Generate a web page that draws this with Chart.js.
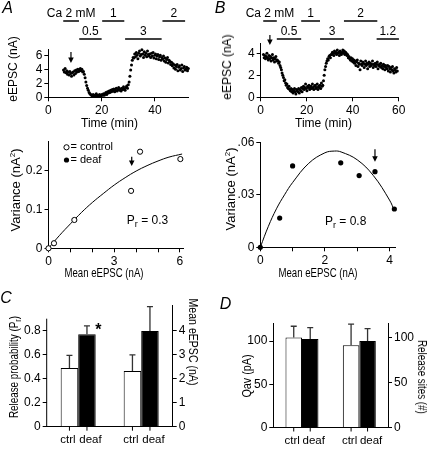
<!DOCTYPE html>
<html>
<head>
<meta charset="utf-8">
<script src="https://cdn.jsdelivr.net/npm/chart.js@4.4.1/dist/chart.umd.min.js"></script>
<style>
  html, body { margin: 0; padding: 0; background: #fff; }
  #fig { position: relative; width: 429px; height: 449px; overflow: hidden; font-family: "Liberation Sans", Arial, sans-serif; color: #000; }
  #fig canvas { position: absolute; }
  .lbl { position: absolute; transform: translate(-50%, -50%); white-space: nowrap; font-size: 12px; line-height: 1; }
  .up { transform: translate(-50%, -50%) rotate(-90deg); }
  .down { transform: translate(-50%, -50%) rotate(90deg); }
  .panel { font-size: 16px; font-style: italic; }
  .var { font-size: 13px; }
  sup { font-size: 8px; vertical-align: 5px; line-height: 0; }
  sub { font-size: 9px; vertical-align: -3px; line-height: 0; }
</style>
</head>
<body>
<div id="fig">
  <canvas id="timeA" width="214" height="130" style="left:0;top:0"></canvas>
  <canvas id="timeB" width="215" height="130" style="left:214px;top:0"></canvas>
  <canvas id="varA" width="214" height="155" style="left:0;top:130px"></canvas>
  <canvas id="varB" width="215" height="155" style="left:214px;top:130px"></canvas>
  <canvas id="barC" width="214" height="164" style="left:0;top:285px"></canvas>
  <canvas id="barD" width="215" height="164" style="left:214px;top:285px"></canvas>

  <div class="lbl panel" style="left:7.5px;top:7.5px">A</div>
  <div class="lbl panel" style="left:220px;top:7.5px">B</div>
  <div class="lbl panel" style="left:6px;top:297.5px">C</div>
  <div class="lbl panel" style="left:225.5px;top:304px">D</div>

  <div class="lbl up" style="left:13.3px;top:69px">eEPSC (nA)</div>
  <div class="lbl" style="left:109.5px;top:123px">Time (min)</div>
  <div class="lbl up" style="left:227px;top:67px">eEPSC (nA)</div>
  <div class="lbl" style="left:323.5px;top:123px">Time (min)</div>

  <div class="lbl up var" style="left:15px;top:190px">Variance (nA<sup>2</sup>)</div>
  <div class="lbl" style="left:104px;top:273px;transform:translate(-50%,-50%) scaleX(0.8)">Mean eEPSC (nA)</div>
  <div class="lbl" style="left:147.5px;top:220px">P<sub>r</sub> = 0.3</div>
  <div class="lbl up var" style="left:230px;top:189px">Variance (nA<sup>2</sup>)</div>
  <div class="lbl" style="left:318px;top:273px;transform:translate(-50%,-50%) scaleX(0.8)">Mean eEPSC (nA)</div>
  <div class="lbl" style="left:345.7px;top:221px">P<sub>r</sub> = 0.8</div>

  <div class="lbl" style="left:14px;top:366.7px;transform:translate(-50%,-50%) rotate(-90deg) scaleX(0.82)">Release probability (P<sub>r</sub>)</div>
  <div class="lbl" style="left:193px;top:341.5px;transform:translate(-50%,-50%) rotate(90deg) scaleX(0.88)">Mean eEPSC (nA)</div>
  <div class="lbl" style="left:246.5px;top:376px;transform:translate(-50%,-50%) rotate(-90deg) scaleX(0.9)">Qav (pA)</div>
  <div class="lbl" style="left:422px;top:376.5px;transform:translate(-50%,-50%) rotate(90deg) scaleX(0.82)">Release sites (#)</div>
</div>

<script>
// ---- panel A / B time courses (eEPSC in nA), one sweep every 0.3 min
var sweepStartA = 5.7, sweepStepA = 0.3;
var eepscA = [
  3.9, 3.6, 4.1, 3.5, 3.8, 3.3, 3.6, 3.2, 3.7, 3.4, 3.0, 3.5, 3.6, 3.2, 3.8, 3.4, 3.9, 3.6, 4.0, 3.7, 3.9, 4.1,
  3.8, 4.0, 3.6, 3.7,
  3.3, 2.8, 2.2, 1.7, 1.3, 1.0, 0.7, 0.5, 0.4, 0.3,
  0.2, 0.4, 0.1, 0.3, 0.2, 0.5, 0.2, 0.3, 0.1, 0.4, 0.3, 0.2, 0.4, 0.3, 0.5, 0.3,
  0.5, 0.7, 0.4, 0.8, 0.6, 0.9, 0.7, 1.0, 0.8, 1.1, 0.9, 1.2, 0.8, 1.0, 1.3, 0.9, 1.1, 1.4, 1.0, 1.2,
  0.9, 1.3, 1.1, 1.5, 1.2, 1.0, 1.4, 1.6, 1.3, 1.8,
  2.2, 3.0, 3.9, 4.6, 5.3, 5.7,
  5.6, 6.2, 5.8, 6.4, 6.0, 5.5, 6.3, 6.6, 5.9, 6.1, 6.8, 6.2, 5.7, 6.5, 6.0, 6.3, 5.8, 6.6, 6.1, 5.9,
  6.2, 5.7, 6.3, 5.9, 6.4, 5.6, 6.0, 6.2, 5.5, 5.9, 6.1, 5.4, 5.8, 6.0, 5.3, 5.7, 5.5, 5.9, 5.2, 5.6,
  5.0, 5.4, 5.7, 4.9, 5.3, 5.1, 4.7,
  5.0, 4.5, 4.8, 4.2, 4.6, 4.0, 4.4, 4.7, 3.8, 4.3, 4.5, 3.9, 4.1, 4.6, 3.7, 4.2, 4.4, 3.9, 4.0, 4.3, 3.8, 4.1
];
var sweepStartB = 1.2, sweepStepB = 0.3;
var eepscB = [
  3.9, 3.6, 3.8, 3.5, 3.7, 4.0, 3.6, 3.4, 3.8, 3.5, 3.7, 3.3, 3.6, 3.9, 3.4, 3.6, 3.2, 3.5, 3.7, 3.3, 3.4,
  3.3, 3.1, 3.2, 2.9, 2.7,
  2.5, 2.2, 2.0, 1.8, 1.5, 1.6, 1.3, 1.1, 1.2, 0.9, 0.8, 1.0, 0.7, 0.6, 0.8,
  0.5, 0.7, 0.4, 0.6, 0.8, 0.5, 0.3, 0.7, 0.6, 0.5, 0.8, 0.4, 0.7, 0.6, 0.9, 0.5, 0.8, 1.0, 0.7, 0.9,
  1.2, 0.8, 0.6, 1.0, 0.9, 1.1, 0.7, 0.9, 1.0, 0.8, 1.2, 0.9, 0.7, 1.0, 1.1, 0.8, 0.9, 1.2, 0.7, 1.0,
  0.9, 1.1, 0.8, 1.3, 1.0, 1.1,
  1.5, 2.0, 2.5, 2.8, 3.1, 3.3, 3.5, 3.4, 3.7, 3.8, 3.6, 3.9,
  3.9, 4.1, 4.0, 3.8, 4.2, 4.0, 4.1, 3.9, 4.3, 4.0, 4.1, 3.8, 4.2, 4.0, 3.9, 4.1, 4.3, 4.0, 4.2, 3.9, 4.1,
  4.0, 3.8, 3.9, 3.6, 3.7, 3.5, 3.4, 3.6, 3.3, 3.5, 3.2, 3.4,
  3.1, 3.3, 2.9, 3.2, 3.4, 2.8, 3.1, 3.0, 2.5, 3.3, 3.0, 2.9, 3.2, 3.1, 2.7, 3.0, 3.3, 2.9, 3.1, 2.6,
  3.0, 3.2, 2.8, 3.1, 2.9, 3.0, 3.3, 2.7, 3.0, 2.9, 3.1, 2.8, 3.0, 3.2, 2.6, 2.9, 3.0, 2.8, 3.1, 2.7,
  2.9, 2.6, 3.0, 2.8, 2.5, 2.9, 2.7, 2.6, 2.9, 2.4, 2.8, 2.6, 2.3, 2.7, 2.5, 2.8, 2.4, 2.2, 2.6, 2.5,
  2.3, 2.7, 2.4
];

// Ca2+ changes above the time courses (mM, start/end in min)
var caLabelsA = ['Ca 2 mM', '0.5', '1', '3', '2'];
var caStartA = [5.6, 11.6, 20.2, 28.8, 42.8];
var caEndA = [11.5, 20.0, 28.5, 42.5, 51.3];
var caLabelsB = ['Ca 2 mM', '0.5', '1', '3', '2', '1.2'];
var caStartB = [1.1, 7.0, 17.6, 25.8, 36.2, 50.4];
var caEndB = [7.0, 17.6, 25.8, 36.2, 50.7, 60.1];
var arrowTimeA = 8.5, arrowTimeB = 4;

// ---- variance-mean plots
var keyLabels = ['control', 'deaf'];
var meanCtrl = [0, 0.25, 1.18, 3.77, 4.18, 6.02];
var varCtrl = [0, 0.013, 0.073, 0.148, 0.249, 0.23];
var fitCtrlX = [0, 0.5, 1, 1.5, 2, 2.5, 3, 3.5, 4, 4.5, 5, 5.5, 6.1];
var fitCtrlY = [0, 0.033, 0.063, 0.092, 0.118, 0.141, 0.163, 0.182, 0.199, 0.213, 0.225, 0.235, 0.243];
var meanDeaf = [0, 0.6, 1.0, 2.49, 3.06, 3.55, 4.15];
var varDeaf = [0, 0.0167, 0.0465, 0.0483, 0.041, 0.0432, 0.0219];
var fitDeafX = [0, 0.25, 0.5, 0.75, 1, 1.5, 2, 2.3, 2.5, 3, 3.5, 4, 4.15];
var fitDeafY = [0, 0.012, 0.022, 0.030, 0.037, 0.048, 0.054, 0.055, 0.0545, 0.050, 0.041, 0.027, 0.021];
var arrowMeanA = 3.8, arrowMeanB = 3.55;

// ---- summary bars (mean, sem)
var groups = ['ctrl', 'deaf'];
var prMean = [0.49, 0.77], prSem = [0.105, 0.07];
var epscMean = [2.32, 3.99], epscSem = [0.67, 1.01];
var qavMean = [104.2, 102.5], qavSem = [13, 13.2];
var sitesMean = [91.4, 96.2], sitesSem = [23.4, 13.8];

var font = '"Liberation Sans", Arial, sans-serif';
Chart.defaults.font.family = font;
Chart.defaults.font.size = 12;
Chart.defaults.color = '#000';
Chart.defaults.animation = false;
Chart.defaults.responsive = false;
Chart.defaults.events = [];
Chart.defaults.plugins.legend.display = false;
Chart.defaults.plugins.tooltip.enabled = false;

function linear(min, max, step, size, fmt, lastTick) {
  var axis = {
    type: 'linear', min: min, max: max,
    afterFit: function (s) { if (s.isHorizontal()) s.height = size; else s.width = size; },
    grid: { drawOnChartArea: false, color: '#000', tickLength: 4 },
    border: { color: '#000' },
    ticks: { stepSize: step, includeBounds: false, padding: 2, color: '#000', autoSkip: false, maxRotation: 0 }
  };
  if (fmt) axis.ticks.callback = fmt;
  if (lastTick !== undefined) {
    axis.afterBuildTicks = function (s) {
      s.ticks = s.ticks.filter(function (t) { return t.value <= lastTick + 1e-9; });
    };
  }
  return axis;
}

function caBars(labels, starts, ends) {
  return {
    id: 'caBars',
    afterDraw: function (chart) {
      var ctx = chart.ctx, x = chart.scales.x;
      ctx.save();
      ctx.strokeStyle = '#000';
      ctx.fillStyle = '#000';
      ctx.lineWidth = 1.5;
      ctx.font = '12px ' + font;
      ctx.textAlign = 'center';
      ctx.textBaseline = 'middle';
      labels.forEach(function (lab, i) {
        var x0 = x.getPixelForValue(starts[i]), x1 = x.getPixelForValue(ends[i]);
        var y = i % 2 ? 39 : 21;
        ctx.beginPath();
        ctx.moveTo(x0, y);
        ctx.lineTo(x1, y);
        ctx.stroke();
        ctx.fillText(lab, (x0 + x1) / 2, y - 7);
      });
      ctx.restore();
    }
  };
}

function arrowMark(xValue, yTail, yTip) {
  return {
    id: 'arrowMark',
    afterDraw: function (chart) {
      var ctx = chart.ctx;
      var x = chart.scales.x.getPixelForValue(xValue);
      ctx.save();
      ctx.strokeStyle = '#000';
      ctx.fillStyle = '#000';
      ctx.lineWidth = 1.2;
      ctx.beginPath();
      ctx.moveTo(x, yTail);
      ctx.lineTo(x, yTip - 3);
      ctx.stroke();
      ctx.beginPath();
      ctx.moveTo(x - 2.8, yTip - 5.5);
      ctx.lineTo(x + 2.8, yTip - 5.5);
      ctx.lineTo(x, yTip);
      ctx.closePath();
      ctx.fill();
      ctx.restore();
    }
  };
}

var markerKey = {
  id: 'markerKey',
  afterDraw: function (chart) {
    var ctx = chart.ctx;
    ctx.save();
    ctx.font = '11px ' + font;
    ctx.textBaseline = 'middle';
    ctx.fillStyle = '#000';
    ctx.strokeStyle = '#000';
    ctx.lineWidth = 1;
    keyLabels.forEach(function (lab, i) {
      var y = 17.3 + i * 12.7;
      ctx.beginPath();
      ctx.arc(66.5, y, 2.6, 0, Math.PI * 2);
      if (i) { ctx.fill(); } else { ctx.fillStyle = '#fff'; ctx.fill(); ctx.stroke(); ctx.fillStyle = '#000'; }
      ctx.fillText('= ' + lab, 70.5, y);
    });
    ctx.restore();
  }
};

function timeCourse(id, values, start, step, xMax, yMax, yWidth, top, right, caPlugin, arrowPlugin) {
  var pts = values.map(function (v, i) { return { x: start + i * step, y: v }; });
  return new Chart(document.getElementById(id), {
    type: 'scatter',
    data: { datasets: [{ data: pts, pointRadius: 1.5, pointBackgroundColor: '#000', pointBorderWidth: 0, clip: false }] },
    options: {
      layout: { padding: { top: top, right: right, left: 0, bottom: 0 }, autoPadding: false },
      scales: { x: linear(0, xMax, 20, 32.7), y: linear(0, yMax, 2, yWidth) }
    },
    plugins: [caPlugin, arrowPlugin]
  });
}

timeCourse('timeA', eepscA, sweepStartA, sweepStepA, 52.5, 6.8, 48.3, 49.7, 25.7,
  caBars(caLabelsA, caStartA, caEndA), arrowMark(arrowTimeA, 52, 63));
timeCourse('timeB', eepscB, sweepStartB, sweepStepB, 60, 4.9, 46.7, 43.4, 30.3,
  caBars(caLabelsB, caStartB, caEndB), arrowMark(arrowTimeB, 35, 45));

function xy(xs, ys) { return xs.map(function (x, i) { return { x: x, y: ys[i] }; }); }

// variance vs mean, control (open) and deaf (filled)
new Chart(document.getElementById('varA'), {
  type: 'scatter',
  data: {
    datasets: [
      { data: xy(meanCtrl, varCtrl), pointRadius: 2.6, pointBackgroundColor: '#fff', pointBorderColor: '#000', pointBorderWidth: 1, clip: false },
      { data: xy(fitCtrlX, fitCtrlY), showLine: true, tension: 0.4, pointRadius: 0, borderColor: '#000', borderWidth: 1, clip: false }
    ]
  },
  options: {
    layout: { padding: { top: 11.6, right: 30.8, left: 0, bottom: 0 }, autoPadding: false },
    scales: {
      x: linear(0, 6.15, 1, 36.7, function (v) { return v % 3 === 0 ? v : ''; }),
      y: linear(0, 0.275, 0.1, 48.5)
    }
  },
  plugins: [markerKey, arrowMark(arrowMeanA, 26.7, 36)]
});

new Chart(document.getElementById('varB'), {
  type: 'scatter',
  data: {
    datasets: [
      { data: xy(meanDeaf, varDeaf), pointRadius: 2.6, pointBackgroundColor: '#000', pointBorderWidth: 0, clip: false },
      { data: xy(fitDeafX, fitDeafY), showLine: true, tension: 0.4, pointRadius: 0, borderColor: '#000', borderWidth: 1, clip: false }
    ]
  },
  options: {
    layout: { padding: { top: 12.3, right: 34, left: 0, bottom: 0 }, autoPadding: false },
    scales: {
      x: linear(0, 4.17, 1, 37.7, function (v) { return v % 2 === 0 ? v : ''; }),
      y: linear(0, 0.06, 0.03, 46.3, function (v) {
        return v === 0 ? '0' : String(Math.round(v * 100) / 100).replace(/^0/, '');
      })
    }
  },
  plugins: [arrowMark(arrowMeanB, 19.3, 31.7)]
});

// error bars, group ticks and labels under each bar
var barExtras = {
  id: 'barExtras',
  afterDatasetsDraw: function (chart) {
    var ctx = chart.ctx, base = chart.chartArea.bottom;
    ctx.save();
    ctx.font = '11.5px ' + font;
    ctx.textAlign = 'center';
    ctx.textBaseline = 'middle';
    ctx.fillStyle = '#000';
    chart.data.datasets.forEach(function (ds, di) {
      var meta = chart.getDatasetMeta(di);
      var scale = chart.scales[ds.yAxisID];
      var shift = ds.backgroundColor === '#000' ? 3.5 : -1.5;
      ds.data.forEach(function (v, i) {
        if (v === null) return;
        var bar = meta.data[i];
        var top = scale.getPixelForValue(v + ds.errors[i]);
        ctx.strokeStyle = '#333';
        ctx.lineWidth = 1.3;
        ctx.beginPath();
        ctx.moveTo(bar.x, bar.y);
        ctx.lineTo(bar.x, top);
        ctx.moveTo(bar.x - 3, top);
        ctx.lineTo(bar.x + 3, top);
        ctx.stroke();
        ctx.strokeStyle = '#000';
        ctx.lineWidth = 1;
        ctx.beginPath();
        ctx.moveTo(bar.x, base);
        ctx.lineTo(bar.x, base + 4);
        ctx.stroke();
        ctx.fillText(ds.label, bar.x + shift, base + 13);
        if (ds.marks && ds.marks[i]) {
          ctx.save();
          ctx.font = 'bold 16px ' + font;
          ctx.textBaseline = 'alphabetic';
          ctx.fillText(ds.marks[i], bar.x + 11.5, top + 9);
          ctx.restore();
        }
      });
    });
    ctx.restore();
  }
};

function barSet(mean, sem, slot, yAxisID, pct, marks) {
  return groups.map(function (g, k) {
    var data = [null, null], errors = [0, 0];
    data[slot] = mean[k];
    errors[slot] = sem[k];
    return {
      label: g, data: data, errors: errors, marks: marks && marks[k] ? (slot ? [null, marks[k]] : [marks[k], null]) : null,
      yAxisID: yAxisID, skipNull: true, barPercentage: 1, categoryPercentage: pct,
      backgroundColor: k ? '#000' : '#fff', borderColor: '#000', borderWidth: 1
    };
  });
}

function barPanel(id, labels, left, right, top, leftW, rightW, xH, leftMax, rightMax, leftStep, rightStep, leftLast, rightLast, leftAxisTop) {
  var yL = linear(0, leftMax, leftStep, leftW, null, leftLast);
  var yR = linear(0, rightMax, rightStep, rightW, null, rightLast);
  yR.position = 'right';
  var plugins = [barExtras];
  if (leftAxisTop !== undefined) {
    yL.border = { display: false };
    plugins.push({
      id: 'leftLine',
      afterDraw: function (chart) {
        var ctx = chart.ctx, a = chart.chartArea, s = chart.scales.yL;
        ctx.save();
        ctx.strokeStyle = '#000';
        ctx.lineWidth = 1;
        ctx.beginPath();
        ctx.moveTo(a.left, a.bottom);
        ctx.lineTo(a.left, s.getPixelForValue(leftAxisTop));
        ctx.stroke();
        ctx.restore();
      }
    });
  }
  return new Chart(document.getElementById(id), {
    type: 'bar',
    data: { labels: labels, datasets: left.concat(right) },
    options: {
      layout: { padding: { top: top, right: 0, left: 0, bottom: 0 }, autoPadding: false },
      scales: {
        x: {
          type: 'category', offset: true,
          afterFit: function (s) { s.height = xH; },
          grid: { display: false },
          border: { color: '#000' },
          ticks: { display: false }
        },
        yL: yL,
        yR: yR
      }
    },
    plugins: plugins
  });
}

barPanel('barC', ['Pr', 'eEPSC'],
  barSet(prMean, prSem, 0, 'yL', 0.556, ['', '*']),
  barSet(epscMean, epscSem, 1, 'yR', 0.556),
  20.5, 46.7, 41.3, 22.3, 1.01, 5.05, 0.2, 1, 0.8, 4, 0.9);

barPanel('barD', ['Qav', 'sites'],
  barSet(qavMean, qavSem, 0, 'yL', 0.575),
  barSet(sitesMean, sitesSem, 1, 'yR', 0.575),
  38.5, 59.3, 41, 21.5, 120.4, 115.6, 50, 50, 100, 100);
</script>
</body>
</html>
